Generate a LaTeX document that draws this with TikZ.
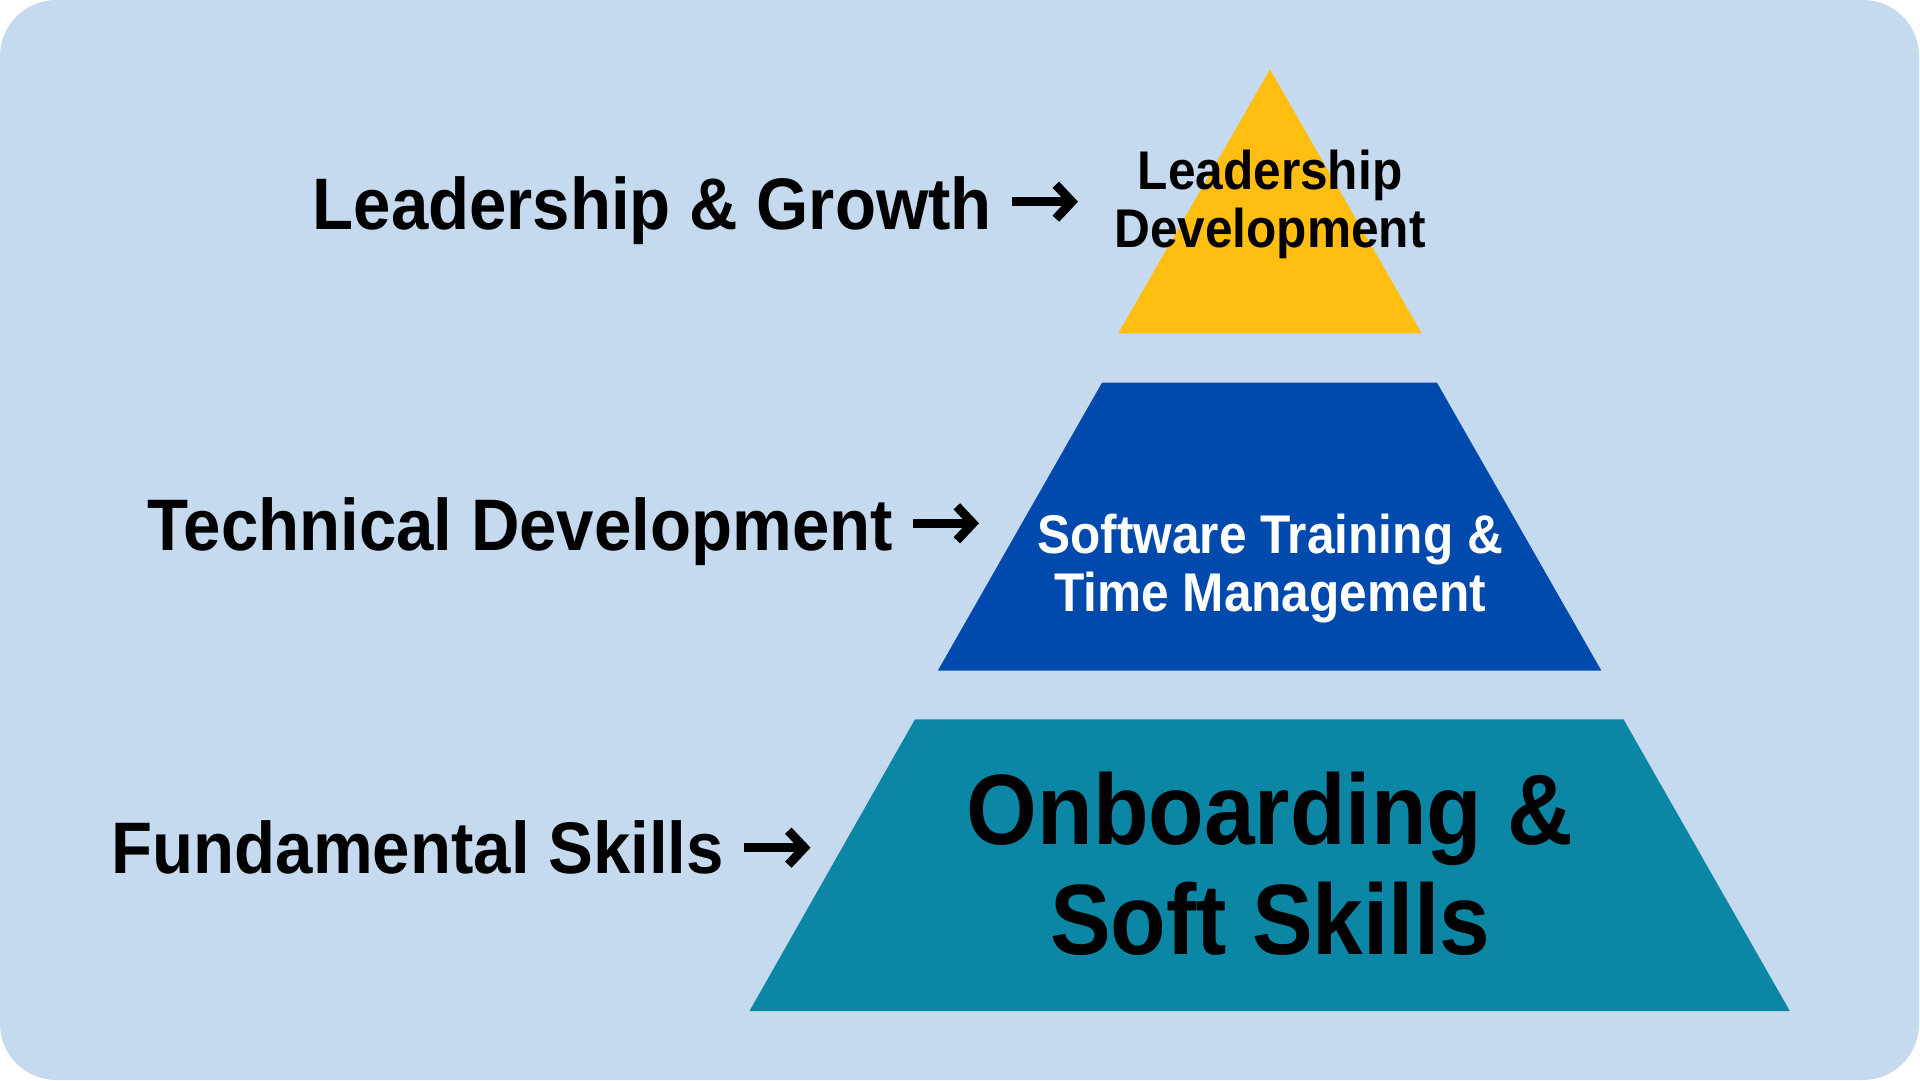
\documentclass[tikz,border=0pt]{standalone}
\usepackage{fontspec}
\usetikzlibrary{arrows.meta}
\setmainfont{Liberation Sans}[FakeStretch=0.91]
\newfontfamily\sidefont{Liberation Sans}[FakeStretch=0.92]
\definecolor{bgblue}{HTML}{C5DAEE}
\definecolor{tieryellow}{HTML}{FFBE10}
\definecolor{tierblue}{HTML}{004AAD}
\definecolor{tierteal}{HTML}{0B87A5}
\tikzset{
  sidelabel/.style={inner sep=0pt, anchor=base east, font=\sidefont\bfseries\fontsize{73}{80}\selectfont, text=black},
  sidearrow/.style={line width=9pt, draw=black, shorten <=20pt, -{Straight Barb[length=16pt, width=34pt]}},
  tierlabel/.style={inner sep=0pt, anchor=base, align=center, font=\bfseries\fontsize{54.5}{58}\selectfont},
  baselabel/.style={inner sep=0pt, anchor=base, align=center, font=\bfseries\fontsize{100}{110}\selectfont, text=black}
}
\begin{document}
\begin{tikzpicture}[x=1pt,y=1pt]
\useasboundingbox (0,0) rectangle (1920,1080);
\fill[white] (0,0) rectangle (1920,1080);
\fill[bgblue, rounded corners=56pt] (0,0) rectangle (1919,1080);
% tiers
\fill[tieryellow] (1270,1010.5) -- (1421.7,746.7) -- (1118.3,746.7) -- cycle;
\fill[tierblue] (1102,697.3) -- (1437,697.3) -- (1601.4,409.3) -- (937.8,409.3) -- cycle;
\fill[tierteal] (915,360.7) -- (1623.5,360.7) -- (1789.8,69) -- (749.5,69) -- cycle;
% tier texts (anchor = baseline of last line)
\node[tierlabel, text=black] (top) at (1270,832.7) {Leadership\\Development};
\node[tierlabel, text=white] (mid) at (1270,468.3) {Software Training \&\\Time Management};
\node[baselabel] (bot) at (1270,126) {Onboarding \&\\Soft Skills};
% side labels
\node[sidelabel] (lg) at (992,850.7) {Leadership \& Growth};
\node[sidelabel] (td) at (893,529.3) {Technical Development};
\node[sidelabel] (fs) at (724,206.7) {Fundamental Skills};
\coordinate (lgtip) at (1078,878.3);
\coordinate (tdtip) at (979,556.7);
\coordinate (fstip) at (810.5,232.3);
\draw[sidearrow] (lg.east |- lgtip) -- (lgtip);
\draw[sidearrow] (td.east |- tdtip) -- (tdtip);
\draw[sidearrow] (fs.east |- fstip) -- (fstip);
\end{tikzpicture}
\end{document}
